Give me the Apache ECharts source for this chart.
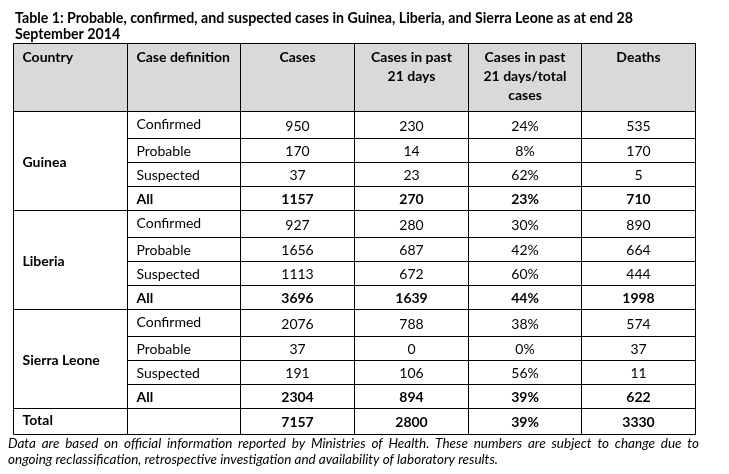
<!DOCTYPE html>
<html lang="en">
<head>
    <meta charset="utf-8">
    <style>
        html, body { margin: 0; padding: 0; background: #fff; }
        #table-chart { width: 729px; height: 474px; }
    </style>
</head>
<body>
<div id="table-chart"></div>
<script src="https://cdn.jsdelivr.net/npm/echarts@6.0.0/dist/echarts.min.js"></script>
<script type="text/javascript">

// 表格内容
var columns = ['Country', 'Case definition', 'Cases', 'Cases in past\n21 days', 'Cases in past\n21 days/total\ncases', 'Deaths'];
var countries = ['Guinea', 'Liberia', 'Sierra Leone'];
var caseDefs = ['Confirmed', 'Probable', 'Suspected', 'All'];
var cases = [950, 170, 37, 1157, 927, 1656, 1113, 3696, 2076, 37, 191, 2304];
var cases21 = [230, 14, 23, 270, 280, 687, 672, 1639, 788, 0, 106, 894];
var share21 = ['24%', '8%', '62%', '23%', '30%', '42%', '60%', '44%', '38%', '0%', '56%', '39%'];
var deaths = [535, 170, 5, 710, 890, 664, 444, 1998, 574, 37, 11, 622];
var totals = [7157, 2800, '39%', 3330];

var titleText = 'Table 1: Probable, confirmed, and suspected cases in Guinea, Liberia, and Sierra Leone as at end 28\nSeptember 2014';
var noteLines = [
    'Data are based on official information reported by Ministries of Health. These numbers are subject to change due to',
    'ongoing reclassification, retrospective investigation and availability of laboratory results.'
];

// 行高 (y 轴单位)
var headerH = 68, firstRowH = 27, rowH = 24, totalH = 26;
var FONT = 'Lato';
var BODY_SIZE = 14;
var NOTE_FONT = 'italic 13.5px Lato';

var cells = [];
columns.forEach(function (name, c) {
    cells.push({ c0: c, c1: c + 1, r0: 0, r1: headerH, text: name, bold: true,
        align: c < 2 ? 'left' : 'center', valign: 'top', fill: '#d9d9d9' });
});
var y = headerH;
countries.forEach(function (country, g) {
    var top = y;
    caseDefs.forEach(function (def, k) {
        var i = g * 4 + k;
        var h = k === 0 ? firstRowH : rowH;
        var bold = def === 'All';
        var vals = [def, cases[i], cases21[i], share21[i], deaths[i]];
        vals.forEach(function (v, j) {
            cells.push({ c0: j + 1, c1: j + 2, r0: y, r1: y + h, text: String(v), bold: bold,
                align: j === 0 ? 'left' : 'center', valign: (k === 0 && j === 0) ? 'top' : 'middle' });
        });
        y += h;
    });
    cells.push({ c0: 0, c1: 1, r0: top, r1: y, text: country, bold: true, align: 'left', valign: 'middle' });
});
cells.push({ c0: 0, c1: 1, r0: y, r1: y + totalH, text: 'Total', bold: true, align: 'left', valign: 'middle', dy: -2 });
cells.push({ c0: 1, c1: 2, r0: y, r1: y + totalH, text: '', align: 'left', valign: 'middle' });
totals.forEach(function (v, j) {
    cells.push({ c0: j + 2, c1: j + 3, r0: y, r1: y + totalH, text: String(v), bold: true, align: 'center', valign: 'middle' });
});
var tableH = y + totalH;

// 对齐到半像素, 线条更清晰
function crisp(v) { return Math.round(v) + 0.5; }

function renderItem(params, api) {
    var d = cells[params.dataIndex];
    var p0 = api.coord([api.value(0), api.value(1)]);
    var p1 = api.coord([api.value(2), api.value(3)]);
    var x0 = crisp(p0[0]), y0 = crisp(p0[1]), x1 = crisp(p1[0]), y1 = crisp(p1[1]);
    var w = x1 - x0, h = y1 - y0;
    var tx = d.align === 'left' ? x0 + 9 : x0 + w / 2;
    var ty, va;
    if (d.valign === 'top') {
        ty = y0 + (d.fill ? 4 : 3); va = 'top';
    } else {
        ty = y0 + h / 2 + 1 + (d.dy || 0); va = 'middle';
    }
    return {
        type: 'group',
        children: [{
            type: 'rect',
            shape: { x: x0, y: y0, width: w, height: h },
            style: { fill: d.fill || '#fff', stroke: '#000', lineWidth: 1 }
        }, {
            type: 'text',
            style: {
                text: d.text, x: tx, y: ty,
                fill: '#000', fontFamily: FONT, fontSize: BODY_SIZE,
                fontWeight: d.bold ? 'bold' : 'normal',
                align: d.align, verticalAlign: va, lineHeight: 19
            }
        }]
    };
}

// 脚注第一行两端对齐
var measureCtx = document.createElement('canvas').getContext('2d');
measureCtx.font = NOTE_FONT;
function noteElements(line, yPos, justify, left, right) {
    if (!justify) {
        return [{ type: 'text', left: left, top: yPos,
            style: { text: line, font: NOTE_FONT, fill: '#000' } }];
    }
    var words = line.split(' ');
    var widths = words.map(function (w) { return measureCtx.measureText(w).width; });
    var total = widths.reduce(function (a, b) { return a + b; }, 0);
    var gap = (right - left - total) / (words.length - 1);
    var x = left, els = [];
    words.forEach(function (w, i) {
        els.push({ type: 'text', x: x, y: yPos,
            style: { text: w, font: NOTE_FONT, fill: '#000' } });
        x += widths[i] + gap;
    });
    return els;
}

var chart = echarts.init(document.getElementById('table-chart'));
chart.setOption({
    animation: false,
    title: {
        text: titleText, left: 10, top: 5,
        textStyle: { fontFamily: FONT, fontSize: 14.2, fontWeight: 'bold', color: '#000', lineHeight: 16 }
    },
    graphic: { elements: noteElements(noteLines[0], 437, true, 8, 699)
        .concat(noteElements(noteLines[1], 453, false, 8)) },
    grid: { left: 13, top: 43, width: 682, height: tableH },
    xAxis: { type: 'value', min: 0, max: columns.length, show: false },
    yAxis: { type: 'value', min: 0, max: tableH, inverse: true, show: false },
    series: [{
        type: 'custom',
        renderItem: renderItem,
        clip: false,
        encode: { x: [0, 2], y: [1, 3] },
        data: cells.map(function (d) { return [d.c0, d.r0, d.c1, d.r1]; })
    }]
});

</script>
</body>
</html>
